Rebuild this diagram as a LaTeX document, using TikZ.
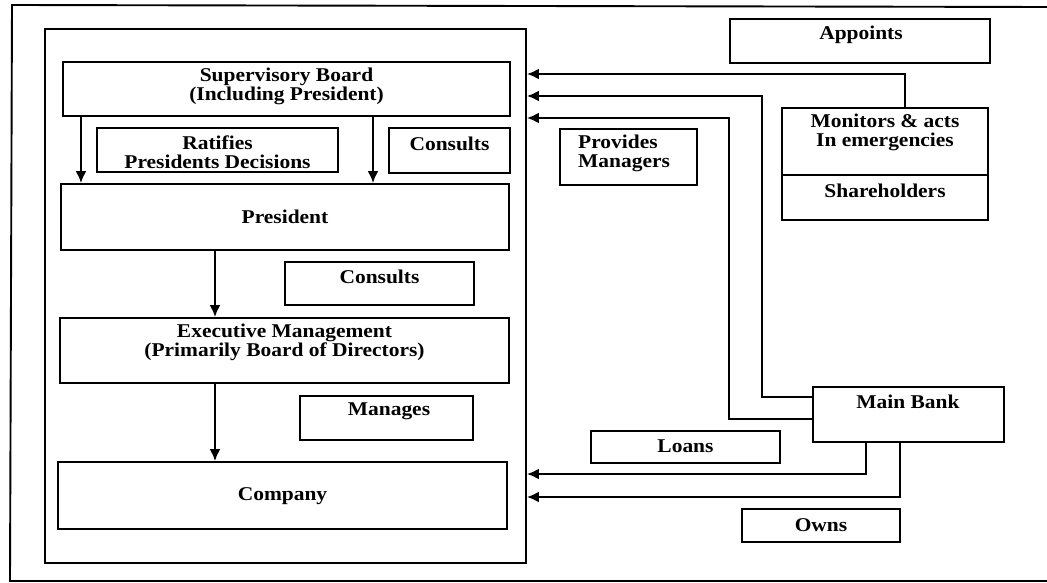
\documentclass[tikz,border=0pt]{standalone}
\usepackage{fontspec}
\setmainfont{Liberation Serif}[FakeStretch=1.1]
\usetikzlibrary{arrows.meta}
\begin{document}
\begin{tikzpicture}[x=1pt,y=-1pt]
\tikzset{
 box/.style={draw, line width=1.9pt, inner sep=0pt, anchor=center},
 lbl/.style={font=\fontsize{19.5}{19}\selectfont\bfseries, align=center, inner sep=0pt},
 conn/.style={line width=2pt},
 arr/.style={conn, -{Latex[length=12pt,width=11pt]}},
}
\useasboundingbox (0,0) rectangle (1047,583);
% outer frame
\draw[line width=1.9pt] (1047,7) -- (12,5) -- (10,581) -- (1047,581);
% inner frame
\node[box, minimum width=481pt, minimum height=534pt] (inner) at (285.5,296) {};
% boxes
\node[box, minimum width=447pt, minimum height=54pt] (sb) at (286.5,89) {};
\node[lbl] (sbt) at (286.5,86) {Supervisory Board\\(Including President)};
\node[box, minimum width=241pt, minimum height=44pt] (rat) at (217.5,150) {};
\node[lbl] (ratt) at (217.5,152) {Ratifies\\Presidents Decisions};
\node[box, minimum width=121pt, minimum height=45pt] (con1) at (449.5,150.5) {};
\node[lbl] (con1t) at (449.5,144) {Consults};
\node[box, minimum width=448pt, minimum height=66pt] (pres) at (285,217) {};
\node[lbl] (prest) at (285,217) {President};
\node[box, minimum width=189pt, minimum height=43pt] (con2) at (379.5,283.5) {};
\node[lbl] (con2t) at (379.5,277) {Consults};
\node[box, minimum width=449pt, minimum height=65pt] (exec) at (284.5,350.5) {};
\node[lbl] (exect) at (284.5,342) {Executive Management\\(Primarily Board of Directors)};
\node[box, minimum width=173pt, minimum height=44pt] (man) at (386.5,418) {};
\node[lbl] (mant) at (389,411) {Manages};
\node[box, minimum width=449pt, minimum height=67pt] (comp) at (282.5,495.5) {};
\node[lbl] (compt) at (282.5,496) {Company};
\node[box, minimum width=260pt, minimum height=44pt] (app) at (860,41) {};
\node[lbl] (appt) at (861,35) {Appoints};
\node[box, minimum width=137pt, minimum height=56pt] (prov) at (628.5,157) {};
\node[lbl, align=left, anchor=west] (provt) at (578,153.5) {Provides\\Managers};
\node[box, minimum width=206pt, minimum height=112pt] (mon) at (885,164) {};
\node[lbl] (mont) at (885,132.5) {Monitors \& acts\\In emergencies};
\node[lbl] (sht) at (885,191) {Shareholders};
\node[box, minimum width=191pt, minimum height=55pt] (bank) at (908.5,414.5) {};
\node[lbl] (bankt) at (908,402) {Main Bank};
\node[box, minimum width=189pt, minimum height=32pt] (loans) at (685.5,447) {};
\node[lbl] (loanst) at (685.5,446) {Loans};
\node[box, minimum width=158pt, minimum height=33pt] (owns) at (821,525.5) {};
\node[lbl] (ownst) at (821,525) {Owns};
% helper coordinates
\coordinate (ydiv) at (0,175);
\coordinate (xa) at (81,0);
\coordinate (xb) at (373,0);
\coordinate (xc) at (215,0);
\coordinate (x905) at (905,0);
\coordinate (x762) at (762,0);
\coordinate (x729) at (729,0);
\coordinate (x866) at (866,0);
\coordinate (x900) at (900,0);
\coordinate (y74) at (0,74);
\coordinate (y96) at (0,96);
\coordinate (y118) at (0,118);
\coordinate (y397) at (0,397);
\coordinate (y419) at (0,419);
\coordinate (y474) at (0,474);
\coordinate (y497) at (0,497);
% divider in shareholders box
\draw[conn] (mon.west |- ydiv) -- (mon.east |- ydiv);
% internal arrows
\draw[arr] (sb.south -| xa) -- (pres.north -| xa);
\draw[arr] (sb.south -| xb) -- (pres.north -| xb);
\draw[arr] (pres.south -| xc) -- (exec.north -| xc);
\draw[arr] (exec.south -| xc) -- (comp.north -| xc);
% external arrows
\draw[arr] (mon.north -| x905) |- (inner.east |- y74);
\draw[arr] (bank.west |- y397) -| (x762 |- y96) -- (inner.east |- y96);
\draw[arr] (bank.west |- y419) -| (x729 |- y118) -- (inner.east |- y118);
\draw[arr] (bank.south -| x866) |- (inner.east |- y474);
\draw[arr] (bank.south -| x900) |- (inner.east |- y497);
\end{tikzpicture}
\end{document}
